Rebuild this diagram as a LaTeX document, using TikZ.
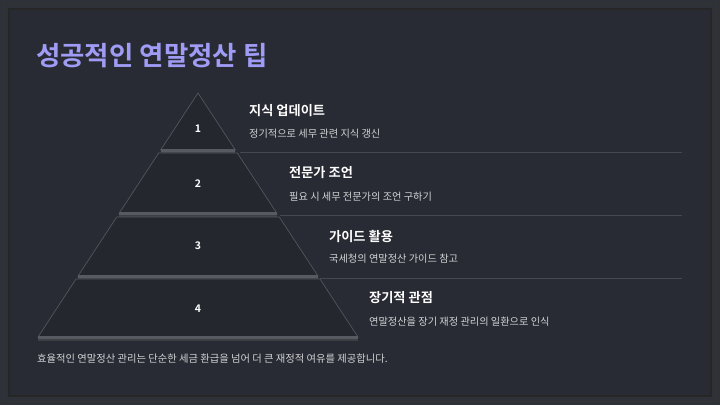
\documentclass[tikz,border=0pt]{standalone}
\usepackage{fontspec}
\setmainfont{Noto Sans CJK KR}
\newfontfamily\krbold{Noto Sans CJK KR Bold}
\begin{document}
\begin{tikzpicture}[x=1pt,y=-1pt,
  lvl/.style={fill=levelfill,draw=edgegray,line width=0.7pt},
  sepbar/.style={draw=bargray,line width=2.4pt},
  rline/.style={draw=rulegray,line width=1pt},
  num/.style={font=\krbold\fontsize{10.5}{12}\selectfont,text=white},
  ttl/.style={anchor=base west,inner sep=0pt,font=\krbold\fontsize{13.2}{15}\selectfont,text=white},
  dsc/.style={anchor=base west,inner sep=0pt,font=\fontsize{10.2}{12}\selectfont,text=desccol},
]
\definecolor{outerbg}{HTML}{2E3138}
\definecolor{panel}{HTML}{282B33}
\definecolor{levelfill}{HTML}{24272E}
\definecolor{edgegray}{HTML}{53565D}
\definecolor{bargray}{HTML}{575A60}
\definecolor{rulegray}{HTML}{464950}
\definecolor{desccol}{HTML}{D2D3D6}
\definecolor{titlecol}{HTML}{A09CF5}
\useasboundingbox (0,0) rectangle (720,405);
\fill[outerbg] (0,0) rectangle (720,405);
\draw[black!80,line width=1pt] (3.5,3.5) rectangle (716.5,401.5);
\fill[panel] (9,9) rectangle (711,396);
\draw[black!85,line width=1.3pt] (9,9) rectangle (711,396);
% title
\node[anchor=base west,inner sep=0pt,text=titlecol,font=\krbold\fontsize{26.5}{30}\selectfont] (title) at (36,65) {성공적인 연말정산 팁};
% pyramid: apex (198,93), slope 160/244
\def\pcx{198}
\def\pslope{0.6557}
\pgfmathsetmacro\hwA{(150-93)*\pslope}
\pgfmathsetmacro\hwB{(153-93)*\pslope}
\pgfmathsetmacro\hwC{(213-93)*\pslope}
\pgfmathsetmacro\hwD{(217-93)*\pslope}
\pgfmathsetmacro\hwE{(276-93)*\pslope}
\pgfmathsetmacro\hwF{(279-93)*\pslope}
\pgfmathsetmacro\hwG{(337-93)*\pslope}
% shadows
\fill[black!60,opacity=0.35] (\pcx-\hwA,152) rectangle (\pcx+\hwA,154);
\fill[black!60,opacity=0.35] (\pcx-\hwC,215) rectangle (\pcx+\hwC,217);
\fill[black!60,opacity=0.35] (\pcx-\hwE,278) rectangle (\pcx+\hwE,280);
\fill[black!60,opacity=0.35] (\pcx-\hwG,339) rectangle (\pcx+\hwG,341);
% levels
\path[lvl] (\pcx,93) -- (\pcx+\hwA,150) -- (\pcx-\hwA,150) -- cycle;
\path[lvl] (\pcx-\hwB,153) -- (\pcx+\hwB,153) -- (\pcx+\hwC,213) -- (\pcx-\hwC,213) -- cycle;
\path[lvl] (\pcx-\hwD,217) -- (\pcx+\hwD,217) -- (\pcx+\hwE,276) -- (\pcx-\hwE,276) -- cycle;
\path[lvl] (\pcx-\hwF,279) -- (\pcx+\hwF,279) -- (\pcx+\hwG,337) -- (\pcx-\hwG,337) -- cycle;
\draw[sepbar] (\pcx-\hwA,150.5) -- (\pcx+\hwA,150.5);
\draw[sepbar] (\pcx-\hwC,213.5) -- (\pcx+\hwC,213.5);
\draw[sepbar] (\pcx-\hwE,276.5) -- (\pcx+\hwE,276.5);
\draw[sepbar] (\pcx-\hwG,337.5) -- (\pcx+\hwG,337.5);
% numbers
\node[num] (n1) at (\pcx,129) {1};
\node[num] (n2) at (\pcx,184) {2};
\node[num] (n3) at (\pcx,246) {3};
\node[num] (n4) at (\pcx,309) {4};
% rules
\coordinate (r1a) at (240,152.5); \coordinate (r1b) at (682,152.5);
\coordinate (r2a) at (280,215.5); \coordinate (r2b) at (682,215.5);
\coordinate (r3a) at (320,278.5); \coordinate (r3b) at (682,278.5);
\draw[rline] (r1a) -- (r1b);
\draw[rline] (r2a) -- (r2b);
\draw[rline] (r3a) -- (r3b);
% texts
\node[ttl] (t1) at (249,115) {지식 업데이트};
\node[dsc] (d1) at (249,137) {정기적으로 세무 관련 지식 갱신};
\node[ttl] (t2) at (289,177) {전문가 조언};
\node[dsc] (d2) at (289,200) {필요 시 세무 전문가의 조언 구하기};
\node[ttl] (t3) at (329,241) {가이드 활용};
\node[dsc] (d3) at (329,262) {국세청의 연말정산 가이드 참고};
\node[ttl] (t4) at (369,302) {장기적 관점};
\node[dsc] (d4) at (369,325) {연말정산을 장기 재정 관리의 일환으로 인식};
\node[anchor=base west,inner sep=0pt,font=\fontsize{10.3}{12}\selectfont,text=desccol] (foot) at (37,362) {효율적인 연말정산 관리는 단순한 세금 환급을 넘어 더 큰 재정적 여유를 제공합니다.};
\end{tikzpicture}
\end{document}
